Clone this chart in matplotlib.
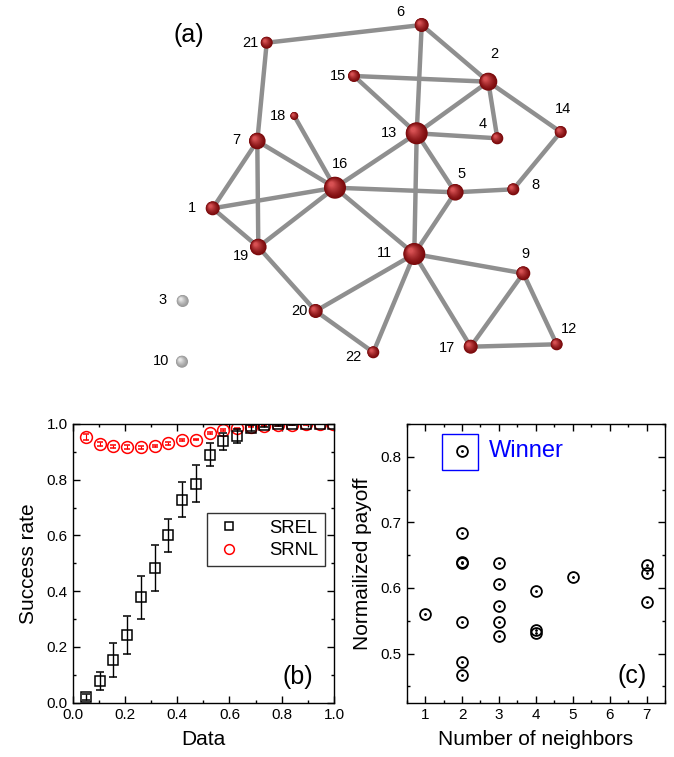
import numpy as np
import matplotlib.pyplot as plt
from matplotlib.patches import Circle, Rectangle
from matplotlib.lines import Line2D
from matplotlib.colors import to_rgb

plt.rcParams['font.family'] = ['Liberation Sans', 'DejaVu Sans']

# (a) red de nodos: posiciones (x, y en la imagen)
nodos = [1, 2, 3, 4, 5, 6, 7, 8, 9, 10, 11, 12, 13, 14, 15, 16, 17, 18, 19, 20, 21, 22]
nodo_x = [212.7, 488.3, 182.7, 497.3, 455.3, 421.7, 257.3, 513.3, 523.3, 182.0, 414.3,
          556.7, 416.7, 560.7, 354.0, 335.0, 470.7, 294.3, 258.3, 315.7, 266.7, 373.3]
nodo_y = [208.3, 81.7, 301.0, 138.3, 192.3, 25.0, 141.0, 189.3, 273.3, 361.7, 254.0,
          344.3, 133.3, 132.0, 76.0, 187.7, 346.7, 116.0, 247.0, 311.0, 42.7, 352.3]
etiqueta_x = [191.7, 494.0, 162.3, 482.7, 461.7, 400.0, 236.0, 535.7, 525.0, 161.0, 384.3,
              569.0, 389.3, 563.3, 337.7, 340.0, 446.7, 277.7, 240.7, 299.0, 250.0, 353.3]
etiqueta_y = [207.7, 54.0, 300.0, 124.3, 174.0, 11.7, 140.0, 185.0, 254.0, 361.0, 253.3,
              329.0, 132.7, 109.3, 76.0, 164.3, 348.3, 115.7, 256.0, 310.7, 42.7, 356.7]
aristas = [(21, 6), (21, 7), (6, 2), (6, 13), (15, 2), (15, 13), (2, 13), (2, 4), (2, 14),
           (13, 4), (13, 16), (13, 5), (13, 11), (14, 8), (8, 5), (5, 16), (5, 11), (18, 16),
           (7, 16), (7, 1), (7, 19), (1, 16), (1, 19), (19, 16), (16, 11), (19, 20), (20, 11),
           (20, 22), (22, 11), (11, 17), (11, 9), (9, 17), (9, 12), (17, 12)]

# (b) tasa de exito
datos = [0.05, 0.103, 0.155, 0.208, 0.261, 0.313, 0.366, 0.419, 0.471, 0.524, 0.576,
         0.629, 0.682, 0.734, 0.787, 0.840, 0.892, 0.945, 0.997]
srel = [0.02, 0.077, 0.153, 0.243, 0.378, 0.483, 0.60, 0.728, 0.785, 0.89, 0.938,
        0.958, 0.985, 0.995, 0.998, 0.999, 1.0, 1.0, 1.0]
srel_err = [0.01, 0.033, 0.06, 0.067, 0.078, 0.084, 0.06, 0.063, 0.066, 0.04, 0.03,
            0.025, 0.01, 0.005, 0.004, 0.003, 0.002, 0.002, 0.002]
srnl = [0.953, 0.928, 0.92, 0.918, 0.916, 0.922, 0.93, 0.942, 0.944, 0.968, 0.978,
        0.984, 0.99, 0.993, 0.995, 0.997, 0.998, 0.999, 1.0]
srnl_err = [0.01, 0.006, 0.006, 0.008, 0.006, 0.004, 0.004, 0.003, 0.003, 0.003, 0.003,
            0.002, 0.002, 0.002, 0.001, 0.001, 0.001, 0.001, 0.001]

# (c) pago normalizado vs numero de vecinos
vecinos = [1, 2, 2, 2, 2, 2, 2, 2, 3, 3, 3, 3, 3, 4, 4, 4, 5, 7, 7, 7]
pago = [0.561, 0.809, 0.684, 0.639, 0.638, 0.548, 0.487, 0.467, 0.638, 0.606, 0.572,
        0.548, 0.527, 0.596, 0.536, 0.531, 0.616, 0.635, 0.623, 0.579]

fig = plt.figure(figsize=(6.74, 7.57), dpi=100)

# ---------------- (a) ----------------
axa = fig.add_axes([0, 1 - 380 / 757, 1, 380 / 757])
axa.set_xlim(0, 674)
axa.set_ylim(380, 0)
axa.axis('off')

pos = {n: (x, y) for n, x, y in zip(nodos, nodo_x, nodo_y)}
grado = {n: 0 for n in nodos}
for a, b in aristas:
    grado[a] += 1
    grado[b] += 1
    axa.plot([pos[a][0], pos[b][0]], [pos[a][1], pos[b][1]], color='#8f8f8f', lw=3.2,
             solid_capstyle='butt', zorder=1)

radio_grado = {0: 6.0, 1: 4.0, 2: 6.0, 3: 7.0, 4: 8.3, 5: 9.0, 7: 11.0}


def esfera(ax, x, y, r, oscuro, claro):
    c0 = np.array(to_rgb(oscuro))
    c1 = np.array(to_rgb(claro))
    n = 14
    for k in range(n):
        t = k / n
        col = c0 + (c1 - c0) * t ** 1.3
        ax.add_patch(Circle((x - 0.35 * r * t, y - 0.35 * r * t), r * (1 - 0.85 * t),
                            color=col, lw=0, zorder=2))


for n in nodos:
    x, y = pos[n]
    r = radio_grado[grado[n]]
    if grado[n] == 0:
        esfera(axa, x, y, r, '#9a9a9a', '#eeeeee')
    else:
        esfera(axa, x, y, r, '#7a0a0c', '#e0585a')

for n, x, y in zip(nodos, etiqueta_x, etiqueta_y):
    axa.text(x, y, str(n), fontsize=10.5, ha='center', va='center', zorder=3)
axa.text(189, 35, '(a)', fontsize=18, ha='center', va='center')


def estilo(ax):
    ax.tick_params(which='both', direction='in', top=True, right=True, labelsize=11, width=1)
    ax.tick_params(which='major', length=5)
    ax.tick_params(which='minor', length=2.5)
    for s in ax.spines.values():
        s.set_linewidth(1)


# ---------------- (b) ----------------
axb = fig.add_axes([0.108, 0.0717, 0.3875, 0.3683])
axb.errorbar(datos, srnl, yerr=srnl_err, fmt='o', mfc='none', mec='red', ecolor='red',
             ms=8.5, mew=1.1, capsize=2.5, elinewidth=0.8, zorder=2)
axb.errorbar(datos, srel, yerr=srel_err, fmt='s', mfc='none', mec='black', ecolor='black',
             ms=7.7, mew=1.1, capsize=3, elinewidth=1, zorder=3)
axb.set_xlim(0, 1)
axb.set_ylim(0, 1)
axb.set_xticks(np.arange(0, 1.01, 0.2))
axb.set_yticks(np.arange(0, 1.01, 0.2))
axb.set_xticks(np.arange(0.1, 1, 0.2), minor=True)
axb.set_yticks(np.arange(0.1, 1, 0.2), minor=True)
axb.xaxis.set_major_formatter(plt.FormatStrFormatter('%.1f'))
axb.yaxis.set_major_formatter(plt.FormatStrFormatter('%.1f'))
estilo(axb)
axb.set_xlabel('Data', fontsize=15, labelpad=6)
axb.set_ylabel('Success rate', fontsize=15, labelpad=6)
h_sq = Line2D([], [], ls='none', marker='s', mfc='none', mec='black', ms=6, mew=1.1)
h_ci = Line2D([], [], ls='none', marker='o', mfc='none', mec='red', ms=7, mew=1.1)
leg = axb.legend([h_sq, h_ci], ['SREL', 'SRNL'], loc='center', bbox_to_anchor=(0.74, 0.585),
                 fontsize=13.3, frameon=True, fancybox=False, edgecolor='black',
                 handletextpad=1.4, borderpad=0.35, labelspacing=0.3, handlelength=1.6)
leg.get_frame().set_linewidth(1)
axb.text(0.862, 0.092, '(b)', transform=axb.transAxes, fontsize=18, ha='center', va='center')

# ---------------- (c) ----------------
axc = fig.add_axes([0.6034, 0.0717, 0.3832, 0.3683])
axc.plot(vecinos, pago, 'o', mfc='none', mec='black', ms=7.8, mew=1.3)
axc.plot(vecinos, pago, '.', color='black', ms=2)
axc.set_xlim(0.5, 7.5)
axc.set_ylim(0.425, 0.85)
axc.set_xticks(range(1, 8))
axc.set_xticks(np.arange(0.5, 7.6, 0.5), minor=True)
axc.set_yticks([0.5, 0.6, 0.7, 0.8])
axc.set_yticks([0.45, 0.55, 0.65, 0.75, 0.85], minor=True)
axc.yaxis.set_major_formatter(plt.FormatStrFormatter('%.1f'))
estilo(axc)
axc.set_xlabel('Number of neighbors', fontsize=15, labelpad=6)
axc.set_ylabel('Normailized payoff', fontsize=15, labelpad=6)
axc.add_patch(Rectangle((1.47, 0.779), 0.96, 0.056, fill=False, edgecolor='blue', lw=1))
axc.text(2.72, 0.809, 'Winner', color='blue', fontsize=17, ha='left', va='center')
axc.text(0.871, 0.096, '(c)', transform=axc.transAxes, fontsize=18, ha='center', va='center')

fig.savefig('out.png', dpi=100)
